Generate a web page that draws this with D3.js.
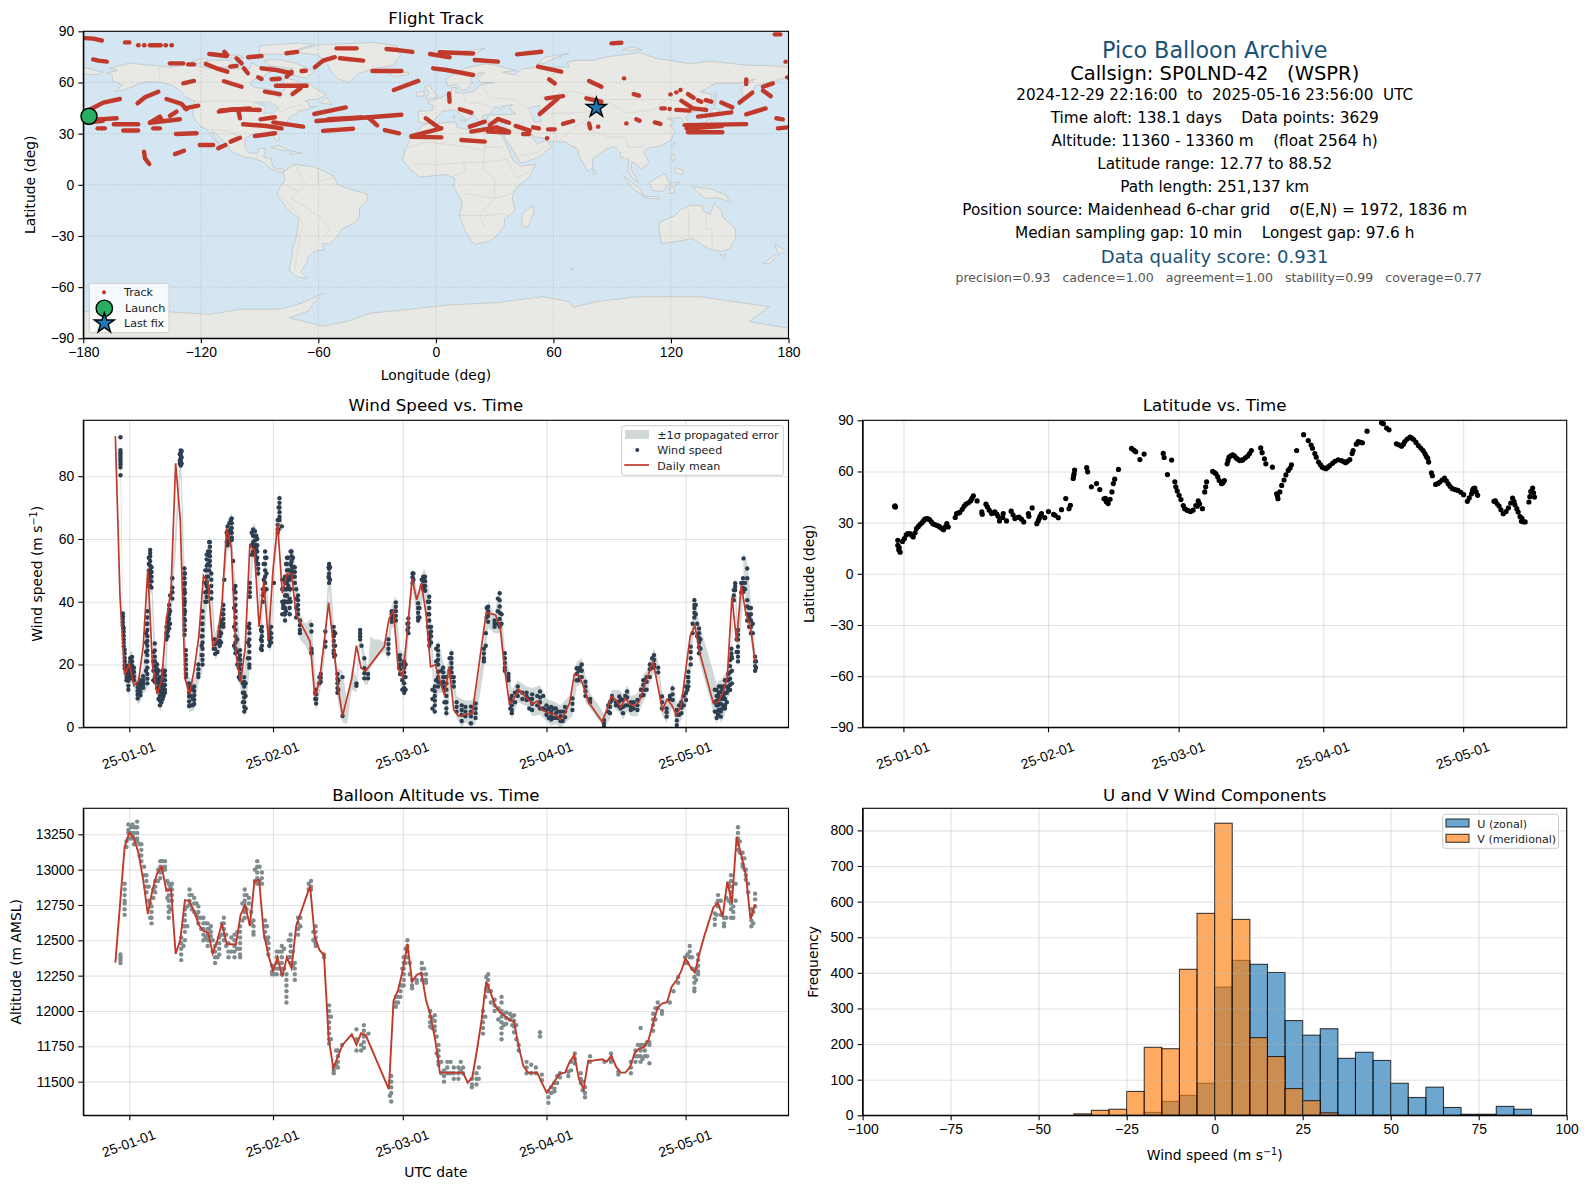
<!DOCTYPE html>
<html>
<head>
<meta charset="utf-8">
<script src="https://cdn.jsdelivr.net/npm/d3@7"></script>
<style>
  html, body { margin: 0; padding: 0; background: #fff; }
  svg { display: block; font-family: "DejaVu Sans", sans-serif; }
  .axis text { font-size: 13.9px; fill: #000; }
  .axis path, .axis line { stroke: #000; stroke-width: 1.1px; }
  .grid line { stroke: #b0b0b0; stroke-opacity: 0.35; stroke-width: 1.1px; }
  .grid path { display: none; }
</style>
</head>
<body>
<svg width="1590" height="1189"></svg>
<script>
const monthDays = [0, 31, 59, 90, 120];

const infoLines = [
    'Pico Balloon Archive',
    'Callsign: SP0LND-42   (WSPR)',
    '2024-12-29 22:16:00  to  2025-05-16 23:56:00  UTC',
    'Time aloft: 138.1 days    Data points: 3629',
    'Altitude: 11360 - 13360 m    (float 2564 h)',
    'Latitude range: 12.77 to 88.52',
    'Path length: 251,137 km',
    'Position source: Maidenhead 6-char grid    σ(E,N) = 1972, 1836 m',
    'Median sampling gap: 10 min    Longest gap: 97.6 h',
    'Data quality score: 0.931',
    'precision=0.93   cadence=1.00   agreement=1.00   stability=0.99   coverage=0.77'
];

// histogram, bins are 5 m/s wide
const histBinLeft = [-40, -35, -30, -25, -20, -15, -10, -5, 0, 5, 10, 15, 20, 25, 30, 35, 40, 45, 50, 55, 60, 65, 70, 75, 80, 85];
const histU = [0, 0, 0, 0, 8, 39, 56, 90, 360, 435, 424, 401, 266, 225, 243, 160, 177, 154, 90, 50, 79, 22, 3, 3, 25, 17];
const histV = [4, 14, 17, 67, 191, 187, 410, 567, 820, 550, 218, 165, 75, 41, 7, 0, 0, 0, 0, 0, 0, 0, 0, 0, 0, 0];

// daily means, days counted from 2025-01-01
const windMeanDays = [-3, -2, -1, 0, 1, 2, 3, 4, 5, 6, 7, 8, 9, 10, 11, 12, 13, 14, 15, 16, 17, 18, 19, 20, 21, 22, 23, 24, 25, 26, 27, 28, 29, 30, 31, 32, 33, 34, 35, 36, 37, 39, 40, 41, 42, 43, 44, 45, 46, 48, 49, 50, 51, 55, 56, 57, 58, 59, 60, 61, 62, 63, 64, 65, 66, 67, 68, 69, 70, 71, 74, 77, 79, 80, 81, 82, 83, 84, 87, 88, 89, 90, 91, 92, 93, 94, 95, 96, 97, 98, 99, 102, 103, 104, 105, 106, 107, 108, 109, 110, 111, 113, 115, 116, 117, 118, 119, 121, 122, 123, 126, 127, 128, 129, 130, 131, 132, 133, 134, 135];
const windMeanSpeeds = [92.8, 41.6, 16.6, 20.2, 13.3, 14.7, 25.7, 50.3, 19.9, 10.6, 15.1, 34.2, 43.7, 84.1, 66, 15.6, 10.5, 18.3, 28.9, 48.3, 46, 25.7, 28.3, 39.5, 63.4, 57.5, 23.6, 14.3, 25.2, 58, 56.5, 32, 46.4, 27.8, 50.1, 65, 42.7, 48.8, 49, 35.8, 33.2, 27.3, 9.8, 14.5, 26.8, 39.7, 26.8, 13, 3.6, 15.6, 26, 18.8, 18, 25.7, 34.4, 37.2, 18.8, 16, 31, 47.4, 40.6, 45.9, 36.3, 19.3, 19.9, 15, 10.3, 19.3, 5.5, 3.6, 4.5, 36.6, 35.8, 32, 18.3, 7.4, 9.2, 12.1, 7.4, 8.4, 5.5, 4.8, 4.4, 4, 2.5, 4.5, 7.9, 16.9, 16.5, 13, 8.2, 1.8, 5.5, 10, 8.7, 6.4, 9.2, 7.4, 6.9, 8.2, 13, 20.9, 5.5, 9, 7.1, 3.9, 6.6, 29.1, 32.4, 24.1, 7.6, 8.2, 10.8, 16.1, 41.6, 27.3, 45.3, 36.3, 32, 20.9];

// wind speed samples: [day, speeds...]
const windColumns = [
    [-1.9, [92.4, 88.3, 87.6, 86.9, 86.2, 85.4, 84.6, 83.8, 82.8, 80.3]],
    [-1.4, [36.3, 35.4, 34.6, 33.5, 32.4]], [-1.2, [31.6, 30.4, 29.2, 28, 26.9, 25.8]],
    [-1, [24.7, 23.5, 22.1, 21, 19.8, 18.7]], [-0.6, [19.6, 18.4, 17.2, 16, 15]],
    [-0.2, [19.1, 17.6, 16.1, 14.8, 13.2, 12]], [0.2, [22, 20.8, 19.5, 18.2, 17, 15.6]],
    [0.6, [22.4, 21, 19.6, 18.5, 17.2, 16.4]], [1, [19, 17.6, 16.2, 15]],
    [1.8, [14, 12.8, 11.6, 10.4, 9.2]], [2.4, [15, 13.8, 12.5, 11.3, 10.2]], [3, [16.3, 15, 13.8, 12.6]],
    [3.9, [37, 35, 33, 31, 29, 27.5, 26, 24.5, 23, 21, 19, 17, 15.5, 14]],
    [4.5, [56.5, 55.5, 54.5, 53, 51.5, 50, 49, 48, 46.5, 45]], [4.8, [51, 49.5, 48, 46.5, 44.5]],
    [5.5, [26.7, 24.5, 22.5, 21, 19.5, 18, 16, 14.5]], [6, [20, 18.5, 17, 15.5, 14, 12.5]],
    [6.6, [16, 14.5, 13, 11.5, 10, 8.5, 7]], [7.2, [18, 16.5, 15, 13.5, 12, 10.5, 9]],
    [7.7, [18, 16.5, 15, 13.5, 12, 11]], [8.3, [35, 33.5, 32, 30.5, 29]],
    [8.6, [39, 37.5, 36, 34.5, 33, 31.5]], [9.3, [47.5, 44.5, 43, 41]],
    [11.1, [88.2, 87.4, 86.6, 85.8, 85, 84.2, 83.4]],
    [11.9, [50.6, 49, 47.5, 45.5, 44, 42.5, 41, 39, 37.5, 36, 34.5, 32.5, 31, 29.5]],
    [12.2, [24.6, 23, 21.5, 20, 18.5, 17, 16]], [12.9, [14, 12.5, 11, 9.8, 8.2, 6.8]],
    [14, [13, 11.6, 10.2, 8.8, 7.4]], [14.9, [20, 18.5, 17, 16]],
    [15.8, [37, 35, 33, 31, 29, 27, 25, 23, 21.5, 20]],
    [16.7, [55, 53.5, 51.5, 50, 48, 46.5, 45, 43, 41.5, 40]], [17.4, [59, 57.5, 56, 54.5, 53, 51.5]],
    [17.7, [49, 47, 45, 43, 41]], [18.5, [28, 26.5, 25, 23.4]], [19.5, [32, 30.5, 29, 27.5, 26]],
    [20.3, [39, 37.5, 36, 34.5, 33, 32]], [20.5, [47]], [21.2, [64, 62.5, 61, 59.5, 58]],
    [22.1, [66.5, 65, 63.5, 62, 60.5, 59.7]], [22.4, [53]],
    [22.9, [45, 43, 41, 39, 37, 35, 33, 31, 29, 27, 25, 23.6]], [23.9, [24.6, 23, 21.5, 20, 18.5, 17, 15.2]],
    [24.8, [16, 14.5, 13, 11, 9.5, 8, 6.5, 5]], [25.9, [33, 31.5, 30, 28, 26, 24, 22, 20, 19]],
    [26, [46, 44.5, 43, 41.6]], [26.7, [63, 61, 59, 57.5, 56]], [27.1, [62.5, 61, 59.5, 58, 56.5, 55]],
    [27.6, [60, 58, 56, 54, 52]], [27.8, [52, 50.5, 49]], [28.6, [32, 30.5, 29, 27.5, 26, 24.6]],
    [28.8, [44, 42, 40]], [29.3, [56, 54, 52, 50, 48, 46, 44]], [30.2, [31, 29.5, 28, 26]],
    [30.6, [32, 30, 28.5, 27]], [31.2, [46]], [32, [66, 64.5, 63, 62]],
    [32.4, [73, 71.5, 70, 68.5, 67, 66]], [32.9, [64]], [33.2, [40, 39, 38]],
    [33.6, [48, 46, 44, 42, 40, 38, 36, 34]], [34, [54, 52, 50, 48, 46, 44, 42, 40]],
    [34.6, [50, 47, 44, 41, 38, 36]], [35, [56, 54.5, 53, 51.5, 50, 49]], [35.7, [51, 49.5, 48, 46]],
    [36.4, [42, 40.5, 39, 37.5, 36]], [36.8, [34, 32.5, 31, 30]], [39.3, [32.6, 30.5, 25, 24, 23.6]],
    [40.3, [12, 10.5, 9, 7.6]], [41.3, [17, 15.8, 14.5]], [42.3, [30.5, 27.3, 25.7]],
    [43.1, [52, 50.5, 49, 47.5, 46]], [44.1, [32, 30.5, 29, 27.5, 26, 24.5, 23.6]], [44.2, [22.5]],
    [44.9, [17, 15.5, 14, 12.5, 11]], [46, [16, 3.6]], [49, [14, 13.2]], [49.8, [31, 30, 29, 28]],
    [50.1, [26]], [50.7, [22, 18.8, 17.2, 15.6]], [51.5, [17, 15.6]], [55.9, [28, 26.5, 25, 23.5]],
    [56.6, [37, 36, 34.8, 33.6]], [57.5, [39.8, 38.4, 37, 35.5, 34]], [58.4, [23, 21.5, 20, 18.5, 17]],
    [59.3, [21, 19, 17.5, 16, 14, 12.5, 11]], [60.2, [34.7, 33.2, 31.8, 30]], [61.1, [49, 47.8, 46]],
    [62.3, [39.5, 38, 36.5, 35, 34]], [63.4, [48, 46.5, 45, 44]], [63.8, [48, 46.5, 45, 43.5]],
    [64.7, [41.6, 40, 38, 36, 34, 32, 30, 28, 26]], [65.1, [32, 30.5, 29, 27]], [65.9, [13, 11.5, 10, 8.5, 7, 5]],
    [66.6, [26, 24.5, 23, 21.5, 20, 17.7, 16, 14.5, 13]], [67.7, [19, 17.5, 16, 14.5, 13]],
    [68.4, [16, 14, 12, 10, 8, 6, 4.5]], [69.5, [23.6, 22, 20.5, 19, 17.5, 16]], [70, [16, 14.5, 13]],
    [70.6, [8, 6.5, 5]], [71.7, [7, 5.5, 4, 2]], [72.5, [6.5, 5, 3.5]], [73.7, [6.6, 5, 3.5, 1.3]],
    [74.7, [7.6, 6, 4.5, 3]], [76.5, [25, 23.5, 22, 21]], [77.4, [38.4, 37, 35.5, 33.6]], [78.8, [34, 33, 32]],
    [79.9, [42.7, 40.5, 38.5, 36.5, 34.5, 32]], [81, [23.6, 22, 20.5, 19, 18]], [81.8, [17, 16, 15]],
    [82.5, [10, 8.5, 7, 5.5, 4.5]], [83.8, [13, 11.5, 10]], [85.7, [11, 9.8, 8.7]], [86.9, [10.5, 9, 7.5, 5.5]],
    [88.6, [11.4, 9.5, 8, 6]], [90, [7, 5.5, 4]], [91, [6.5, 5, 3.5, 2.5]], [92, [6, 4.5, 3]], [93, [5, 3.5, 2]],
    [94, [6.5, 5, 3.2]], [95.6, [9.2, 7.5, 5.5]], [96.5, [18.8, 17, 15]], [97.6, [20, 18, 16]],
    [98.4, [14.5, 13, 11.5, 10]], [99.4, [9, 8]], [102.4, [2.3, 1.2, 0.2]], [103.7, [8, 6.5, 4.5]],
    [104.1, [10, 8.7]], [105.7, [9.8, 8.2, 6.6]], [106.5, [8.7, 6.5, 4.5]], [107.4, [11.4, 9.5, 7]],
    [108.2, [8, 6.5, 5.5]], [109.6, [8.7, 7, 5.5]], [110.9, [15, 13.5, 12, 10.3]], [111.6, [16, 14.5, 12]],
    [112.3, [20, 18.5, 16]], [113.2, [23, 21.5, 20, 19.3]], [114.1, [19, 17.5]], [114.9, [9.8, 8, 6]],
    [115.9, [6, 4.8, 3.4]], [117.2, [12.4, 10.5, 8.7]], [118.1, [5.5, 4, 2.2, 0.7]], [119.1, [8, 6.2, 4.5]],
    [120.1, [13, 11, 8.7]], [120.6, [17.7, 16, 14.5, 13]], [121.1, [25.7, 24, 22, 20]],
    [121.9, [40.5, 39, 38, 36.5, 35]], [122.9, [31.5, 30, 28.5, 27, 25.5, 23.6]],
    [126.7, [11.9, 10, 8.5, 7, 5, 3]], [127.2, [13, 11, 9, 7.5, 5.5]], [127.6, [13, 11.2, 9.5, 7.5, 5, 3.4]],
    [128.5, [15, 13, 11, 9, 7, 6]], [129.2, [17, 15, 13, 12]], [129.6, [21.4, 19.5, 17.5, 15.5, 13.5, 11.9]],
    [129.9, [25, 23.5, 22.5]], [130.4, [43.7, 42, 40.5]], [130.7, [45.9, 44.8, 43.7]],
    [131.3, [31, 29.5, 28, 25.7, 24, 22.5, 21]], [132.4, [47.5, 46, 44.5, 43]], [132.5, [53.8]],
    [133.3, [50.6, 47.5, 40.5, 38.5, 36, 34]], [134.1, [38, 36, 34, 32, 30]], [135, [22.5, 21, 19.5, 18]]
];

// samples between the main streaks, dots only
const windColumnsExtra = [
    [3.6, [33, 30, 27, 24, 21, 18]], [4.2, [54, 52, 50, 47, 45]], [5.2, [24, 21, 18, 15]], [6.3, [18, 15, 12, 9]], [6.9, [14, 11, 8]], [7.4, [17, 13, 10]],
    [8, [32, 30, 28]], [8.8, [42, 37, 33]], [10.9, [87, 85, 84]], [11.3, [88, 86, 84]], [12, [49, 46, 43, 40, 37, 34, 31]], [13.2, [13, 10, 7]], [13.7, [12, 9, 7]],
    [15.6, [33, 29, 26, 23]], [16.4, [50, 46, 43, 40]], [17, [56, 52, 48, 44]], [17.2, [59, 55, 50]], [18.2, [28, 25]], [19, [27, 24]], [19.8, [34, 30, 27]], [20, [36, 33]],
    [21, [62, 59]], [21.6, [65, 62, 59]], [21.9, [66, 63, 60]], [22.6, [44, 38, 32, 26]], [23.3, [28, 24, 20]], [23.6, [22, 19, 16]], [24.5, [14, 11, 8]], [25.1, [14, 10, 6]],
    [25.6, [32, 27, 22]], [26.4, [62, 58, 55]], [27.4, [61, 57, 53]], [28.4, [31, 28, 25]], [29, [52, 47, 43]], [29.6, [54, 49, 44]], [30.4, [30, 27]], [32.2, [70, 66, 63]],
    [33, [47, 44, 40, 36]], [33.4, [44, 40, 36]], [33.8, [52, 47, 42, 37]], [34.3, [54, 50, 45, 40]], [34.8, [56, 52, 48, 44, 40]], [35.3, [54, 51, 48]], [36, [44, 41, 38, 35]],
    [40.1, [11, 9]], [41, [16, 14]], [43, [51, 48]], [43.3, [51, 47]], [44.4, [30, 26, 23]], [45.1, [15, 12]], [58.2, [22, 19]], [58.9, [20, 15, 12]], [59.6, [20, 16, 12]],
    [60, [33, 31]], [61.3, [49, 47]], [62.6, [38, 35]], [63.1, [47, 45]], [63.6, [47, 44]], [64.4, [40, 36, 32]], [65.4, [12, 9, 6]], [66.2, [25, 21, 15]], [67.3, [18, 14]],
    [68, [16, 12, 8]], [69.1, [22, 18]], [76.9, [30, 26]], [77.1, [38, 35]], [79.5, [41, 37, 33]], [80.3, [36, 33]], [82.2, [9, 6]], [83.2, [11, 8]], [84.8, [11, 9]], [86.3, [9, 6]],
    [88, [10, 7]], [89.3, [10, 6]], [90.5, [6, 3]], [91.5, [6, 3]], [92.5, [5, 3]], [93.5, [5, 2]], [96.9, [18, 15]], [97.2, [19, 16]], [103.3, [7, 5]], [105, [8, 7]], [106, [9, 6]],
    [107, [10, 7]], [108.8, [8, 6]], [110.4, [12, 10]], [111.2, [15, 12]], [112.8, [22, 19]], [116.6, [10, 9]], [118.6, [7, 4]], [119.6, [10, 7]], [120.4, [16, 12]], [121.5, [33, 30]],
    [122.2, [39, 36]], [122.5, [33, 29]], [123.2, [28, 25]], [126.3, [12, 8, 5]], [127, [10, 7, 4]], [127.9, [12, 9, 6]], [128.2, [13, 10, 7]], [128.9, [15, 11, 8]], [130, [22, 18, 14]],
    [131, [28, 24]], [132, [46, 43]], [132.8, [46, 44]], [133.7, [38, 35, 32]], [134.5, [33, 30]], [135.2, [21, 19]]
];

// extra error band knots where the fit is poor between fixes: [day, low, high]
const windBandExtra = [[38, 26, 33], [47, 1, 8], [48, 12, 19], [52, 19, 29], [53, 21, 28], [54, 23, 28], [55, 24, 27]];
const windSigma = 2;

const latTrack = [
    [-1.9, 39.4], [-1.8, 39.9], [-1.7, 39.1], [-1.2, 19.6], [-1.2, 16.7], [-1, 14.1], [-0.9, 15.3], [-0.7, 12.7], [-0.2, 19], [0.2, 20.6], [0.6, 22.8], [0.9, 23.5], [1.4, 23.6], [1.8, 22.5], [2.1, 21.6],
    [2.5, 24], [2.8, 26.5], [3.2, 27.8], [3.6, 29], [4, 30], [4.3, 31], [4.6, 32], [5, 32.4], [5.3, 32.2], [5.6, 31.8], [6, 30.5], [6.3, 29.4], [6.7, 28.9], [7.1, 28.4], [7.5, 28], [7.8, 27.5], [8.2, 26.7], [8.6, 25.9], [9, 27.5], [9.3, 29.4], [9.6, 27.5],
    [11.1, 33], [11.4, 35.3], [11.8, 35.7], [12.1, 35.9], [12.6, 37.8], [13, 39.6], [13.4, 40.8], [13.9, 41.6], [14.4, 42.7], [14.7, 44.2], [15, 45.7], [15.8, 42.7], [16.8, 36.3], [16.9, 34.9], [17.7, 40.8], [18, 39.2], [18.4, 37.3], [18.9, 35.3], [19.2, 35.7], [19.6, 36.3], [20, 35], [20.3, 33.7], [20.6, 31],
    [21.4, 35.3], [21.3, 33], [22.1, 31], [23.1, 36.7], [23.5, 34.6], [23.9, 32.4], [24.4, 33], [24.8, 33.3], [25.3, 32], [25.8, 30.4], [26.8, 35.3], [26.9, 33.7], [27.6, 38.6], [28.6, 29.4], [28.9, 31], [29.1, 32.4], [29.3, 33.8], [29.6, 35.3], [30.3, 32.9], [31.1, 36.5], [32.2, 34.8], [32.5, 34.3], [33.2, 32.9], [33.9, 37.6], [34.8, 44.1], [35.5, 38.2], [35.8, 40.2],
    [36.4, 55.9], [36.5, 57.5], [36.6, 58.8], [36.7, 60.8], [39.3, 62.2], [39.5, 59.8], [40.3, 51], [41.4, 52.9], [42.1, 49.4], [43, 44], [43.3, 44.2], [43.5, 42.2], [43.9, 41.2], [44.3, 43.7], [44.7, 48], [45, 52.9], [45.3, 55.5], [46.1, 61.2],
    [48.9, 73.5], [49.4, 72.5], [49.8, 71.6], [50.7, 67], [51.6, 70.2], [55.7, 70.6], [55.9, 68.2], [57.5, 66.7], [56.6, 58.2], [58.2, 53.9], [58.4, 51], [58.7, 48.6], [59.1, 46], [59.5, 43.5], [60, 40], [60.3, 38.2], [60.8, 37.3], [61.2, 36.9], [61.6, 36.5], [62.1, 37.3], [62.7, 40], [63.2, 42.7], [63, 39.6], [63.5, 41], [64.1, 38.2], [64.6, 48], [64.8, 51], [65, 53.9],
    [66.3, 60], [66.7, 59.4], [67, 58.6], [67.4, 56.8], [67.7, 54.7], [68.2, 52.8], [68.5, 53.4], [68.8, 54.7], [69.4, 64.5], [69.6, 66.5], [69.8, 68.4], [70.2, 69.2], [70.6, 69.7], [71, 69], [71.4, 67.8], [71.8, 67], [72.1, 66.4], [72.5, 66.6], [72.8, 66.8], [73.3, 68], [73.8, 69], [74.2, 70.5], [74.6, 72.3], [76.6, 73.8], [76.9, 71], [77.4, 67.4], [77.7, 64.5], [79.1, 62.5],
    [80, 46.9], [80.2, 45.5], [80.3, 44], [80.7, 48], [81.1, 51.8], [81.6, 55], [82, 58], [82.5, 60.6], [82.9, 62], [83.2, 63.9], [84.3, 72.3], [85.8, 81.6], [86.8, 78.1], [87.4, 75.5], [87.7, 73.6], [88.2, 70.5], [88.5, 68.4], [89, 65.5], [89.4, 64], [89.8, 62.5], [90.2, 62], [90.6, 61.6], [91, 62.5], [91.4, 63.5], [92, 64.8], [92.5, 66], [93.2, 66.8], [93.9, 66.4], [94.4, 65.8], [94.8, 65.1], [95.2, 66], [95.7, 67], [96.2, 70.5], [96.4, 72.3], [97.1, 76], [97.5, 77.5], [98, 77], [98.4, 76.8], [99.4, 83.6], [102.5, 88.5], [102.9, 88], [103.6, 85.5], [104.1, 84.4],
    [105.7, 76.2], [106.2, 75.6], [106.8, 74.8], [107.2, 76], [107.5, 77.5], [108, 79], [108.6, 80.1], [109, 79.5], [109.4, 78.7], [109.9, 77], [110.4, 75.2], [110.9, 73.7], [111.4, 72.3], [111.8, 70.5], [112.1, 68.8], [112.4, 67.8], [112.6, 65.5], [113.2, 59.2], [113.4, 57.5], [114.1, 52.4], [114.6, 53], [115, 53.8], [115.5, 55], [116, 56.1], [116.4, 54.5], [116.8, 52.8], [117.2, 51.3], [117.7, 49.9], [118.3, 49.3], [118.9, 48.9], [119.5, 47.8], [120.1, 46.4], [120.9, 42.5], [121.3, 44.5], [121.8, 46.9], [122, 48.9], [122.2, 50], [122.5, 50.3], [122.8, 48], [123.1, 46],
    [126.6, 42.5], [126.9, 42.8], [127.3, 41], [127.7, 39.7], [128.1, 37.5], [128.6, 35.2], [129.2, 36.5], [129.7, 38.6], [130.2, 41.5], [130.6, 44.4], [130.9, 42.5], [131.1, 40.5], [131.5, 38.2], [131.8, 36.2], [132.2, 33.5], [132.5, 30.8], [132.6, 32.5], [132.9, 30.5], [133.3, 30.4], [134.1, 42.1], [134.3, 45.2], [134.5, 48.3], [134.9, 50.3], [135.1, 47.5], [135.3, 45]
];

const altMeanDays = [-3, -1, 0, 1, 2, 3, 4, 5, 6, 7, 8, 9, 10, 11, 12, 13, 14, 15, 16, 17, 18, 19, 20, 21, 23, 24, 25, 26, 27, 28, 29, 30, 31, 32, 33, 34, 35, 36, 39, 40, 41, 42, 43, 44, 45, 46, 48, 49, 50, 51, 56, 57, 58, 59, 60, 61, 62, 63, 64, 65, 66, 67, 72, 73, 74, 75, 76, 77, 78, 79, 80, 81, 82, 83, 84, 85, 86, 88, 89, 90, 91, 92, 93, 94, 95, 96, 97, 98, 99, 100, 102, 103, 104, 105, 106, 107, 108, 109, 110, 111, 112, 113, 114, 115, 116, 117, 118, 119, 120, 121, 122, 123, 124, 126, 127, 128, 129, 130, 131, 132, 133, 134, 135];
const altMeans = [12342, 13163, 13262, 13222, 13116, 12927, 12686, 12856, 12974, 13021, 12849, 12861, 12403, 12502, 12785, 12778, 12703, 12609, 12566, 12554, 12408, 12502, 12620, 12474, 12470, 12679, 12750, 12601, 12920, 12927, 12550, 12396, 12286, 12378, 12243, 12380, 12302, 12601, 12885, 12526, 12432, 12396, 11807, 11595, 11677, 11760, 11835, 11760, 11842, 11830, 11446, 12073, 12149, 12290, 12474, 12208, 12255, 12271, 12078, 11965, 11795, 11564, 11564, 11493, 11531, 11724, 11937, 12208, 12125, 12031, 11988, 11965, 11937, 11925, 11748, 11611, 11564, 11564, 11493, 11423, 11465, 11517, 11559, 11564, 11642, 11689, 11517, 11446, 11649, 11649, 11658, 11642, 11684, 11606, 11564, 11564, 11602, 11701, 11736, 11743, 11795, 11913, 12026, 12054, 12062, 12172, 12215, 12278, 12373, 12314, 12271, 12408, 12526, 12734, 12762, 12668, 12915, 12762, 13233, 13104, 12962, 12649, 12755];

// altitude samples: [day, metres...]
const altColumns = [
    [-1.9, [12400, 12380, 12360, 12340]], [-1, [12900, 12860, 12820, 12780, 12760, 12720, 12680]],
    [-0.2, [13320, 13280, 13260, 13220]], [0.4, [13300, 13260, 13220]], [1, [13300, 13260, 13220, 13180]], [1.7, [13340, 13300, 13260, 13220, 13200]],
    [2.6, [13180, 13140, 13100, 13060]], [3.7, [12960, 12920, 12880, 12840]], [4.8, [12740, 12700, 12660, 12620]],
    [5.6, [12920, 12880, 12840]], [6.7, [13060, 13020, 12980, 12940]], [7.7, [13060, 13020, 13000]],
    [8.5, [12900, 12860, 12820, 12780, 12740, 12700, 12660]], [9.2, [12900, 12860, 12820, 12780]],
    [11.2, [12520, 12480, 12440, 12400, 12360]], [12, [12720, 12680, 12640, 12600, 12560, 12500]],
    [13, [12860, 12820, 12780, 12750]], [14, [12800, 12760, 12700]], [14.9, [12740, 12700, 12660, 12620]],
    [16, [12660, 12620, 12580, 12540, 12500]], [16.9, [12620, 12580, 12540, 12500, 12460]], [17.6, [12600, 12560, 12530]],
    [18.5, [12460, 12420, 12380, 12340]], [19.4, [12520, 12480, 12440, 12400]], [20.4, [12660, 12620, 12580, 12540, 12500]],
    [21.4, [12480, 12420, 12380]], [22.7, [12540, 12500, 12460, 12420, 12380]], [23.9, [12600, 12560, 12520, 12480, 12440, 12400, 12380]],
    [24.9, [12860, 12820, 12780, 12740, 12700, 12660]], [25.8, [12800, 12760]], [26.8, [12640, 12600, 12560, 12540]],
    [27.6, [13060, 13020, 12980, 12940, 12900]], [28.6, [12980, 12940, 12900]], [29.3, [12640, 12600, 12560, 12520]],
    [30, [12520, 12480, 12440, 12400]], [30.8, [12320, 12280, 12260]], [31.8, [12420, 12380, 12340, 12300, 12260]],
    [32.9, [12460, 12420, 12380, 12340, 12300, 12260]], [33.9, [12260, 12220, 12180, 12140, 12100, 12060]],
    [34.8, [12540, 12500, 12460, 12420, 12380, 12340]], [35.7, [12340, 12300, 12260, 12220]], [36.4, [12660, 12620, 12580, 12540]],
    [39.2, [12920, 12880, 12860]], [40.2, [12600, 12560, 12520, 12480, 12460]], [42, [12400, 12380]],
    [43.1, [12040, 12000, 11960, 11920, 11880, 11840, 11800, 11770]], [44.1, [11600, 11580, 11560]],
    [45, [11720, 11680, 11640, 11600]], [45.9, [11760]], [49, [11870, 11800, 11720]], [50, [11760, 11720]],
    [50.6, [11900, 11860, 11820, 11780, 11740]], [51.6, [11840]], [56.5, [11540, 11500, 11460, 11420, 11360]],
    [57.5, [12100, 12060, 12030]], [58.5, [12180, 12140, 12100]], [59.2, [12380, 12340, 12300, 12260, 12220, 12180]],
    [60, [12500, 12460, 12420, 12380]], [61, [12220, 12180, 12160]], [62, [12220, 12200]], [63.1, [12340, 12300, 12260, 12220]],
    [64, [12260, 12220, 12200]], [64.9, [12000, 11960, 11920, 11890]], [65.9, [11970, 11930, 11890, 11860]],
    [66.7, [11760, 11720, 11680, 11640, 11620]], [67.9, [11580, 11540, 11500]], [68.6, [11640, 11600, 11560]],
    [70, [11600, 11560, 11520]], [71, [11600, 11560, 11520]], [72, [11600, 11560]], [73.9, [11520, 11480, 11460]],
    [74.9, [11560, 11520, 11480]], [76.3, [12000, 11960, 11920, 11880, 11840]], [77.4, [12260, 12220, 12180, 12140]],
    [78.8, [12080, 12040, 12000]], [80.3, [12100, 12060, 12000, 11960, 11920, 11880, 11840, 11800]],
    [81.3, [11990, 11950, 11910]], [82.1, [11980, 11940]], [83, [11970, 11930, 11890, 11850]], [84, [11760, 11720]],
    [85.7, [11640, 11600, 11560]], [87.7, [11600, 11560]], [88.6, [11850, 11820]], [89, [11550, 11510]],
    [90.4, [11430, 11390, 11350]], [91.7, [11490, 11450, 11430]], [92.9, [11560, 11530]], [94.7, [11570, 11540]],
    [96.1, [11700, 11660, 11630]], [97.4, [11560, 11520, 11490]], [98.3, [11460, 11420, 11390]], [99.4, [11680, 11640]],
    [102.5, [11640]], [103.9, [11700, 11660, 11640]], [105.5, [11570, 11550]], [108.2, [11640, 11600, 11560]],
    [109.2, [11720, 11680, 11640]], [110.3, [11880, 11760, 11720, 11680, 11640]], [111.2, [11760, 11720, 11680]],
    [112.2, [11780, 11760, 11630]], [113, [11980, 11940, 11900, 11860]], [114, [12060, 12020]], [114.9, [12000, 11980]],
    [116.6, [12060]], [117.4, [12140]], [118.4, [12240, 12200]], [119.9, [12380, 12340]], [120.9, [12460, 12420, 12380]],
    [121.9, [12240, 12200, 12160, 12140]], [122.7, [12400, 12360, 12320, 12280, 12260]], [126.3, [12690, 12650, 12610]],
    [127, [12820, 12780, 12740]], [128.3, [12660, 12620, 12600]], [129.8, [12960, 12920, 12880, 12840, 12800, 12760, 12720, 12660]],
    [130.3, [12740, 12700, 12660]], [131.3, [13300, 13260, 13220, 13180, 13140]], [132.3, [13120, 13080, 13040, 13020]],
    [133, [13000, 12960, 12930]], [134.2, [12720, 12680, 12640, 12600]], [135, [12830, 12790, 12740]],
    [-0.6, [13200, 13160]], [0.7, [13320, 13240]], [1.4, [13300, 13200]], [2.2, [13180, 13100]], [3.2, [13020, 12960]], [4.2, [12880, 12780]], [4.5, [12760, 12660]], [5.2, [12860, 12800]],
    [6.2, [13000, 12920]], [7.2, [13060, 13000]], [8.2, [12920, 12800]], [8.9, [12880, 12720]], [11.7, [12600, 12460]], [12.5, [12740, 12600]], [13.5, [12820, 12720]], [14.5, [12760, 12680]],
    [15.5, [12660, 12580]], [16.5, [12620, 12520]], [17.2, [12580, 12500]], [18, [12500, 12420]], [19, [12480, 12380]], [20, [12620, 12540]], [20.9, [12540, 12460]], [22, [12520, 12420]],
    [23.3, [12560, 12440]], [24.4, [12760, 12640]], [25.3, [12820, 12720]], [26.3, [12700, 12620]], [27.1, [13000, 12920]], [28.1, [13020, 12920]], [29.7, [12600, 12500]], [31.2, [12300, 12260]],
    [32.3, [12420, 12300]], [33.4, [12440, 12300]], [34.4, [12500, 12380]], [35.3, [12420, 12320]], [36.9, [12660, 12600]], [38.7, [12900, 12860]], [39.7, [12560, 12500]], [43.5, [11960, 11800]],
    [44.6, [11720, 11620]], [56.2, [11500, 11400]], [58, [12100, 12060]], [58.9, [12300, 12180]], [59.6, [12440, 12340]], [60.5, [12340, 12260]], [63.6, [12300, 12220]], [65.3, [11950, 11880]],
    [66.3, [11820, 11700]], [67.3, [11640, 11560]], [69.3, [11640, 11560]], [71.5, [11640, 11580]], [75.4, [11600, 11520]], [76.8, [12100, 11960]], [77, [12240, 12160]], [78, [12140, 12060]],
    [79.6, [12020, 11940]], [80.8, [11980, 11900]], [82.6, [11960, 11900]], [83.5, [11900, 11800]], [86.7, [11620, 11560]], [91, [11460, 11420]], [92.3, [11540, 11490]], [95.3, [11640, 11580]],
    [97.8, [11500, 11440]], [109.7, [11760, 11680]], [110.7, [11760, 11660]], [111.7, [11780, 11680]], [113.5, [12020, 11940]], [120.4, [12400, 12340]], [121.4, [12380, 12300]], [122.3, [12300, 12220]],
    [126.7, [12760, 12680]], [127.6, [12780, 12680]], [128.8, [12800, 12660]], [129.3, [12900, 12780]], [130.8, [12900, 12780]], [131.7, [13200, 13120]], [132.7, [13080, 13000]], [133.5, [12900, 12840]], [134.6, [12700, 12620]]
];

// flight track runs as [lon, lat] polylines
const trackRuns = [
    [[-179, 86], [-175, 85.7], [-170.5, 84.6]], [[-158.7, 83.5], [-156.5, 83.5]], [[-152, 81.8], [-151.8, 81.8]], [[-149, 81.8], [-148.8, 81.8]],
    [[-146, 81.8], [-140.5, 81.8]], [[-138, 81.8], [-137.8, 81.8]], [[-135, 81.8], [-134.8, 81.8]], [[-175, 73.5], [-172.3, 72.8], [-168, 72.2]],
    [[-135.8, 71.2], [-129, 71.2]], [[-126.4, 70.6], [-123.5, 70.6]], [[-115.7, 76.7], [-111, 76.1], [-106.9, 75.5]], [[-108, 78], [-106.5, 76]],
    [[-117.4, 70.8], [-112, 68.3], [-106.5, 66.3]], [[-105, 69.3], [-101.8, 69.7]], [[-101.8, 74.2], [-99.2, 71.2]], [[-98, 68.3], [-96, 65.4]],
    [[-95.8, 74.8], [-89, 75.5]], [[-76.3, 77.1], [-70.8, 77.9]], [[-50.7, 80], [-40.5, 80]], [[-25.2, 79.6], [-19.3, 79], [-12, 77.9]],
    [[-3, 76.7], [7, 74.8]], [[2, 77.7], [19, 77]], [[-61.8, 68.9], [-57.6, 72.8], [-51.6, 74.8]], [[-49, 74.2], [-37.1, 72.8]], [[-32.4, 66.7], [-17.6, 66.7]],
    [[-1.4, 68.3], [5.4, 67.3], [19, 64.4]], [[-89, 68.3], [-81.4, 67.3], [-73.7, 65.4]], [[-76.2, 63.4], [-73.7, 66.3]], [[-68.6, 66.7], [-66.4, 66.9]],
    [[-90.7, 63], [-89, 62]], [[-83.9, 61.9], [-79.7, 62.2]], [[-129, 59.5], [-123.5, 60.9]], [[-108.2, 60.7], [-99.2, 57.5]], [[-81.7, 58.1], [-66, 58.1]],
    [[-87.3, 54.6], [-79.7, 53.2]], [[-73.2, 53.2], [-69.1, 56.6]], [[-21.5, 55.6], [-9, 60.9]], [[-176.3, 44.3], [-169.8, 48.2], [-161.3, 50.3]],
    [[-152.3, 47.8], [-148.5, 51.3], [-141.7, 54.6]], [[-137.5, 50.3], [-129.8, 47.4], [-127.3, 44.3]], [[-128.1, 44.8], [-121.3, 46.4]],
    [[-110.8, 42.9], [-103.5, 44.3], [-89.9, 43.9]], [[-110, 43.6], [-95, 44.8]], [[-100.9, 43.9], [-100, 39]], [[-135.8, 40.4], [-132.4, 42.9]], [[-146, 36.4], [-140.9, 40], [-140, 38]],
    [[-146, 36.4], [-130.7, 38.4]], [[-178, 38], [-170, 38.5], [-163, 39]], [[-178, 36.5], [-170, 37.5]], [[-164.4, 35.5], [-152, 35.5]], [[-159.6, 31.8], [-152, 31.8]], [[-172.7, 33.1], [-169, 33.1]],
    [[-144.3, 33.1], [-140.9, 33.1]], [[-132.7, 29.8], [-122.2, 30.2]], [[-149, 19.4], [-148.5, 15.5], [-146.3, 12.2]], [[-133.2, 18], [-128.6, 20]],
    [[-120.5, 23.3], [-113.7, 23.3]], [[-111.1, 21.4], [-107.4, 23.3]], [[-104.8, 25.3], [-100, 27.6]], [[-92.4, 28.6], [-82.2, 30.2]],
    [[-98.4, 35.5], [-86.5, 34.5], [-78.8, 33.1]], [[-89.5, 38.4], [-82.2, 39.6]], [[-83, 36.6], [-67.8, 34.1]], [[-62.1, 41.5], [-46, 45.4]],
    [[-61, 37.4], [-33.8, 39.6], [-17.6, 41.1]], [[-55, 38.5], [-38, 39.5]], [[-34.6, 39.6], [-30, 34.9]], [[-57.6, 31.6], [-42.3, 32.9]], [[-26.1, 32.1], [-18.8, 30.2]],
    [[-5.2, 39], [2, 33.1]], [[-12.5, 28.6], [2.8, 33.1]], [[-12.5, 28.2], [2.8, 27.8]], [[6.7, 53.6], [7, 48.7]], [[19.8, 73.2], [31.7, 72.2]],
    [[41.4, 76.5], [53.8, 78]], [[52.1, 69.3], [64, 66.3]], [[57.8, 61.8], [60.7, 59.5]], [[89.6, 82.9], [94.7, 83.3]], [[173, 88.2], [175.8, 88.2]],
    [[78.2, 60.9], [84.5, 57.5]], [[96, 62.4], [96.1, 62.4]], [[101, 53.2], [103.7, 52.3]], [[56.4, 50.7], [64.9, 52]], [[53, 41.5], [62.3, 50.7]],
    [[12.2, 44.3], [18.1, 42.3]], [[17.3, 34.1], [25, 37]], [[18.1, 31.2], [30.9, 33.7], [37.3, 31.2]], [[31.7, 38.6], [37.3, 36.4]], [[31.7, 38.6], [27.5, 35]],
    [[26.6, 31.2], [37.3, 30.6]], [[13, 26.3], [25, 25.3]], [[40.7, 34.5], [47.9, 31.8]], [[44.5, 29.8], [47.5, 29.8]], [[49.6, 33.7], [52.6, 33.1]],
    [[57.3, 32.5], [60.6, 32.5]], [[56.7, 27.3], [56.8, 27.3]], [[64.9, 35.7], [70, 37.4]], [[78.2, 36], [78.8, 33.1]], [[82.8, 34.1], [82.9, 34.1]],
    [[76.8, 50.7], [84.5, 48.7]], [[97.2, 36], [97.3, 36]], [[102.3, 38.4], [104, 37.6]], [[111.7, 36.6], [114.6, 35.7]], [[115.1, 44.8], [116.8, 44.8]],
    [[119.3, 44.4], [119.4, 44.4]], [[122.7, 43.9], [129.5, 43.5]], [[119.7, 53], [119.8, 53]], [[122.7, 54.2], [122.8, 54.2]], [[124.8, 55.6], [124.9, 55.6]],
    [[128.7, 53.2], [131.6, 51]], [[133.8, 49.6], [135.5, 48.7]], [[137.7, 49.6], [140.6, 48.7]], [[125.3, 49.3], [131.2, 44.8], [138, 43.9]],
    [[145.7, 48.2], [151.3, 45.4]], [[133.8, 40], [150.8, 42.5]], [[155, 48.2], [161.5, 54]], [[158.4, 61.8], [158.4, 59.1]], [[167, 57.5], [172, 59.5]],
    [[167, 55.2], [170.9, 52]], [[158.4, 41.3], [168.3, 44.8]], [[127, 35], [158.4, 35.6]], [[128, 33], [146, 34.4]], [[128.7, 30.8], [146.2, 30.8]],
    [[173.8, 39], [177.1, 38.4]], [[174.6, 33.1], [179.7, 33.7]], [[178.5, 72.2], [178.6, 72.2]], [[179.3, 63], [179.4, 63]]
];

const launchPoint = [-177.1, 40.2];
const lastFix = [81.9, 45.2];

// rough coastlines, [lon, lat]
const landPolygons = [
    [[-168, 65.6], [-162.5, 67], [-166.8, 68.3], [-156.5, 71.3], [-148, 70.4], [-135, 69], [-128, 70], [-120, 69.5], [-115, 68], [-108, 68], [-100, 68], [-95, 68], [-94, 71.5], [-90, 69], [-85, 69.5], [-81.5, 68.5], [-82, 67], [-87, 65], [-87, 64], [-93, 61.8], [-94.8, 59], [-92.5, 57], [-88, 56.5], [-82.5, 55], [-82, 52.5], [-79.5, 51.3], [-79, 54], [-77, 56], [-78, 59], [-77.5, 62.5], [-72, 61.5], [-69.5, 59], [-65, 60], [-62, 57], [-56, 53], [-60, 50], [-65, 50], [-67, 49], [-65, 48.5], [-65, 46], [-61, 46], [-66, 44], [-70, 43.5], [-71, 41.5], [-74, 40.5], [-76, 37], [-76, 35], [-81, 31.5], [-80, 26], [-81, 25], [-82.7, 28], [-84, 30], [-89, 30], [-94, 29.5], [-97.5, 27], [-97.5, 22], [-95, 18.5], [-91, 18.7], [-90.5, 21], [-87, 21.5], [-88, 16], [-84, 15.5], [-83.5, 11], [-81, 9], [-78, 9.5], [-77.5, 7.5], [-80, 7.3], [-85, 10], [-87.5, 13], [-94, 16], [-97, 15.7], [-105, 20], [-106, 23], [-110, 27], [-113, 31], [-114.7, 31], [-112, 26], [-110, 23], [-112, 25], [-115, 29], [-117, 32.5], [-120.5, 34.5], [-124, 40], [-124, 46], [-123, 49], [-127.5, 51], [-130, 54.5], [-134, 58], [-140, 60], [-148, 60.5], [-152, 59], [-158, 56], [-164, 54.5], [-160, 58.5], [-165, 61], [-165, 64]],
    [[-73, 78], [-60, 82], [-32, 83.5], [-20, 81.5], [-18, 76], [-22, 70], [-32, 68], [-40, 65], [-44, 60], [-50, 62], [-54, 67], [-55, 70], [-60, 76]],
    [[-80, 73.5], [-72, 71.5], [-62, 66.5], [-66, 62.5], [-72, 64], [-78, 65], [-73, 68], [-85, 70], [-88, 73]],
    [[-90, 76.5], [-78, 76.5], [-62, 82.5], [-72, 83], [-90, 81.5]],
    [[-117, 73], [-105, 73], [-102, 69], [-115, 69]],
    [[-125, 72], [-118, 74.5], [-116, 73], [-122, 71]],
    [[-110, 76], [-100, 76], [-98, 74.5], [-108, 74.5]],
    [[-59, 48], [-53, 47], [-56, 51.5]],
    [[-84.5, 22], [-80, 23], [-74.5, 20], [-78, 20]],
    [[-74, 20], [-68.5, 18.5], [-74, 18]],
    [[-77.5, 8], [-72, 12], [-62, 10.5], [-52, 5], [-50, 0], [-44, -2.5], [-35, -5.5], [-35, -9], [-39, -14], [-39, -18], [-41, -22], [-48, -26], [-50, -30], [-54, -34.5], [-58, -34.5], [-57, -38], [-62, -39], [-65, -42], [-66, -46], [-69, -51], [-65.5, -55], [-71, -54], [-75, -50], [-73.5, -42], [-73, -36], [-71, -30], [-70, -20], [-76, -14], [-81, -6], [-80, -2], [-77, 3], [-78, 7]],
    [[-6, 35.5], [0, 36], [10, 37], [11, 33.5], [20, 32], [25, 31.5], [32, 31], [34, 28], [37, 21], [39, 15], [43, 11], [51, 12], [48, 5], [40, -3], [39, -8], [40.5, -15], [35, -20], [35, -24], [32.5, -28], [28, -33], [20, -34.8], [18, -33], [15, -27], [12, -18], [13.5, -10], [9, -1], [9.5, 4], [5, 6], [-4, 5], [-8, 4.5], [-13, 9], [-17, 14.5], [-16, 20], [-13, 27], [-10, 31]],
    [[-9, 37], [-9, 43], [-2, 43.5], [-1, 46], [-4.5, 48.5], [2, 51], [8, 54], [8, 57], [10.5, 57], [10, 54], [14, 54], [19, 54.5], [21, 57], [24, 59], [30, 60], [23, 60], [21, 63], [25, 65.5], [22, 65.8], [17.5, 62], [18.5, 60], [16, 56], [13, 55.5], [11, 59], [6, 58], [5, 62], [14, 68], [25, 71], [31, 70], [41, 67], [34, 66], [40, 64.5], [44, 68], [54, 69], [60, 69], [68, 69], [67, 72], [72, 73], [80, 73], [87, 75], [104, 77.5], [113, 74], [130, 71], [140, 72.5], [160, 70], [170, 70], [180, 69], [180, 65], [178, 62.5], [170, 60], [163, 58], [162, 55], [156.7, 51], [156, 57], [163, 62], [155, 59.5], [143, 59.5], [135, 54.5], [141, 53], [140, 48], [135, 43.5], [130, 42.5], [127.5, 39.5], [129, 36], [126.5, 34.5], [126, 37.5], [125, 39.5], [121.5, 39], [118, 39], [122, 37], [119.5, 35], [122, 31], [120, 26], [114, 22.5], [108, 21.5], [106, 19], [109, 13], [105, 9], [102, 12.5], [100, 13.5], [99.5, 9], [103.5, 1.5], [101, 3], [98, 8], [98.5, 15], [94.5, 16], [94, 19], [91, 22.5], [87, 21], [80, 15], [80, 10], [77.5, 8], [73, 17], [72.5, 21], [68, 23.5], [66.5, 25], [57, 25.5], [56.5, 27], [51, 28], [48, 30], [51, 25], [52, 24], [56, 26], [59.5, 22.5], [52, 16], [45, 13], [43, 13], [39, 21], [35, 28], [34.5, 31.5], [36, 36.5], [30, 36], [26.5, 38], [26, 40], [29, 41], [41, 41.5], [37.5, 44.5], [39, 47], [33.5, 46], [33, 44.5], [30, 46], [28, 42], [24, 40.5], [23, 36.5], [20, 40], [18.5, 42], [13, 45.5], [18, 40], [16, 38], [12, 42], [9, 44], [3, 43], [0, 39], [-2, 37], [-5, 36]],
    [[-180, 69], [-175, 67.5], [-170, 66], [-173, 64.5], [-180, 65]],
    [[114, -22], [122, -18], [125, -14.5], [130, -12], [136, -12], [136, -15], [140, -17.5], [142, -11], [145.5, -15], [146.5, -19], [153, -26], [153, -31], [150, -37.5], [146, -39], [140, -38], [135, -34.5], [131, -31.5], [124, -33], [115, -34.5], [114, -27]],
    [[145, -41], [148, -41], [147, -43.5]], [[173, -35], [178, -38], [175, -41.5]], [[173, -41], [167, -46], [170, -46.5], [174, -42]],
    [[131, -1], [141, -2.5], [148, -6], [150.5, -10.5], [144, -7.5], [138, -8], [133, -4]], [[109, 1.5], [117, 7], [119, 1], [116, -4], [110, -3]],
    [[95.5, 5.5], [104, -2], [106, -6], [101, -3]], [[105.5, -6.5], [114, -7], [114, -8.5], [106, -7.5]], [[120, 1], [125, 1.5], [121, -1], [122, -5], [119, -5]],
    [[120.5, 18], [122, 18], [122, 14], [120.5, 14]], [[122, 10], [126, 9], [126, 6], [122, 7]],
    [[130.5, 33], [135, 34], [140, 35], [141.5, 39], [141, 41], [139.5, 38], [136, 36], [131, 34]], [[140, 42], [143, 42], [145, 44], [141.5, 45]],
    [[142, 46], [143, 50], [143, 54], [142, 52]], [[120, 23], [122, 25], [121, 22]], [[80, 9.5], [82, 7], [80.5, 6]],
    [[49.5, -12], [50, -16], [47, -25], [44, -24], [44, -17]], [[-24, 65.5], [-14, 66], [-14, 64.5], [-22, 63.5]],
    [[-5, 50], [1, 51.5], [-2, 56], [-3, 58.5], [-6, 57], [-3, 54], [-5, 52]], [[-10, 52], [-6, 52], [-6, 55], [-10, 54]],
    [[12, 78], [25, 80], [20, 77]], [[52, 71], [56, 75], [68, 77], [60, 74], [55, 71]], [[95, 79], [105, 79], [100, 81]],
    [[8.5, 39], [9.5, 41], [9.7, 39]], [[12.5, 38], [15.5, 38], [15, 36.8]], [[69, -49], [70.5, -49.5], [69.5, -49.8]],
    [[-180, -90], [-180, -74.4], [-135.8, -74.5], [-115.4, -76], [-100, -73], [-81.4, -73], [-76, -72], [-67.8, -69], [-57.5, -63.6], [-63, -70], [-65, -74], [-75, -78], [-57.6, -82.8], [-45, -80], [-33.7, -75.3], [-16.7, -73.4], [7, -70.4], [31, -69.1], [54.7, -65.6], [68.3, -68.5], [70, -71.8], [82, -68.5], [103, -65.6], [134.6, -65.6], [170.3, -71.5], [160, -80.2], [180, -84.1], [180, -90]]
];

// inland water cut back out of the land
const waterPolygons = [
    [[47, 45], [53, 46.5], [53, 40], [54, 37], [50, 37], [49, 41]],
    [[-93, 48.5], [-85, 48.5], [-80, 45], [-83, 42], [-88, 42], [-87, 46]]
];

const borderLines = [
    [[-141, 69.6], [-141, 60.3]], [[-123, 49], [-95, 49], [-89, 48], [-83, 45.5], [-79, 43], [-75, 45], [-69, 47], [-67, 45]],
    [[-117, 32.5], [-106, 31.7], [-97.5, 26]], [[-92, 14.5], [-91, 18]], [[-72, 12], [-67, 1], [-70, -4], [-74, -8], [-69, -11], [-58, -20], [-54, -26], [-57, -31]],
    [[-78, 1], [-75, -1], [-70, -4]], [[-81, -4], [-70, -18]], [[-70, -18], [-68, -23], [-71, -40], [-72, -50]], [[-60, 8], [-60, 2], [-52, 4]],
    [[-13, 27], [-2, 32]], [[-17, 21], [-5, 25], [12, 23], [25, 20]], [[25, 31.5], [25, 20], [24, 9], [30, 4], [30, -8], [22, -18], [25, -25]],
    [[-12, 12], [3, 12], [14, 13], [24, 13], [36, 15]], [[9, 5], [15, 8], [14, 13]], [[14, -5], [30, -8], [39, -5]], [[12, -18], [25, -18], [35, -17]], [[34, 22], [25, 22]], [[36, 15], [41, 4], [48, 8]], [[2, 51], [7, 48], [7, 44]], [[14, 54], [15, 48], [22, 48], [28, 46]],
    [[24, 57], [28, 51], [40, 50], [47, 45]], [[53, 51], [70, 55], [85, 50], [98, 50], [118, 50], [130, 48], [135, 48]], [[53, 42], [68, 42], [80, 43], [85, 50]], [[87, 49], [98, 42], [111, 44], [118, 50]],
    [[80, 43], [75, 37], [78, 32], [88, 28], [97, 28], [98, 22], [106, 22]], [[61, 36], [61, 30], [62, 25]], [[75, 37], [71, 34], [66, 29], [62, 25]], [[44, 37], [46, 30], [48, 30]], [[35, 30], [39, 32], [46, 30], [52, 24]], [[43, 17], [52, 19], [55, 22]],
    [[129, -15], [129, -31]], [[138, -16], [138, -26], [141, -26], [141, -38]]
];

const svg = d3.select('svg');

const windBox = {left: 83.3, right: 788.5, top: 420.3, bottom: 727.3};
const mapBox = {left: 83.3, right: 788.5, top: 31.3, bottom: 338.3};
const latBox = {left: 862.6, right: 1566.7, top: 420.3, bottom: 727.3};
const altBox = {left: 83.3, right: 788.5, top: 808.3, bottom: 1115.3};
const histBox = {left: 862.6, right: 1566.7, top: 808.3, bottom: 1115.3};

const toDate = d => new Date(Date.UTC(2025, 0, 1) + d * 864e5);
const monthTicks = monthDays.map(toDate);

const xWind = d3.scaleUtc().domain([toDate(-9.92), toDate(142.2)]).range([windBox.left, windBox.right]);
const xLat = d3.scaleUtc().domain([toDate(-8.75), toDate(142.2)]).range([latBox.left, latBox.right]);
const yWind = d3.scaleLinear().domain([0, 97.8]).range([windBox.bottom, windBox.top]);
const yLat = d3.scaleLinear().domain([-90, 90]).range([latBox.bottom, latBox.top]);
const yAlt = d3.scaleLinear().domain([11262, 13434]).range([altBox.bottom, altBox.top]);
const xLon = d3.scaleLinear().domain([-180, 180]).range([mapBox.left, mapBox.right]);
const yMapLat = d3.scaleLinear().domain([-90, 90]).range([mapBox.bottom, mapBox.top]);
const xHist = d3.scaleLinear().domain([-100, 100]).range([histBox.left, histBox.right]);
const yHist = d3.scaleLinear().domain([0, 862]).range([histBox.bottom, histBox.top]);

const dateFormat = d3.utcFormat('%y-%m-%d');
const plainFormat = d3.format('d');
const clipId = name => `clip-${name}`;

function addClip(name, box) {
    svg.append('clipPath').attr('id', clipId(name))
        .append('rect')
        .attr('x', box.left).attr('y', box.top)
        .attr('width', box.right - box.left).attr('height', box.bottom - box.top);
}

function addGrid(box, x, y, xTicks, yTicks) {
    svg.append('g').classed('grid', true)
        .attr('transform', `translate(0, ${box.bottom})`)
        .call(d3.axisBottom(x).tickValues(xTicks).tickSize(box.top - box.bottom).tickFormat(''));
    svg.append('g').classed('grid', true)
        .attr('transform', `translate(${box.left}, 0)`)
        .call(d3.axisLeft(y).tickValues(yTicks).tickSize(box.left - box.right).tickFormat(''));
}

function addFrame(box, x, y, xTicks, yTicks, xFormat, rotateDates) {
    const bottom = svg.append('g').classed('axis', true)
        .attr('transform', `translate(0, ${box.bottom})`)
        .call(d3.axisBottom(x).tickValues(xTicks).tickSizeInner(5).tickSizeOuter(0).tickPadding(4).tickFormat(xFormat));
    if (rotateDates) {
        bottom.selectAll('text')
            .attr('text-anchor', 'middle')
            .attr('dy', '0.35em')
            .attr('y', 0)
            .attr('transform', 'translate(-1, 28) rotate(-20)');
    }
    svg.append('g').classed('axis', true)
        .attr('transform', `translate(${box.left}, 0)`)
        .call(d3.axisLeft(y).tickValues(yTicks).tickSizeInner(5).tickSizeOuter(0).tickPadding(4).tickFormat(plainFormat));
    svg.append('rect')
        .attr('x', box.left).attr('y', box.top)
        .attr('width', box.right - box.left).attr('height', box.bottom - box.top)
        .attr('fill', 'none').attr('stroke', '#000').attr('stroke-width', 1.1);
}

function addLabel(text, x, y, size, rotate) {
    const t = svg.append('text')
        .attr('text-anchor', 'middle')
        .attr('font-size', size)
        .attr('transform', `translate(${x}, ${y})` + (rotate ? ' rotate(-90)' : ''))
        .text(text);
    return t;
}

function addUnitLabel(prefix, x, y, rotate) {
    const t = addLabel(prefix, x, y, 13.9, rotate);
    t.append('tspan').text('m s');
    t.append('tspan').text('−1').attr('font-size', 9.7).attr('dy', -5);
    t.append('tspan').text(')').attr('dy', 5);
}

function legendBox(x, y, w, h) {
    svg.append('rect')
        .attr('x', x).attr('y', y).attr('width', w).attr('height', h).attr('rx', 2)
        .attr('fill', '#fff').attr('fill-opacity', 0.8)
        .attr('stroke', '#ccc').attr('stroke-width', 1);
}

function legendText(text, x, y) {
    svg.append('text').attr('x', x).attr('y', y + 4)
        .attr('font-size', 11.1).attr('fill', '#222').text(text);
}

// ---- flight track ----
addClip('map', mapBox);
const mapLine = d3.line().x(d => xLon(d[0])).y(d => yMapLat(d[1]));
const mapClosed = d3.line().x(d => xLon(d[0])).y(d => yMapLat(d[1])).curve(d3.curveLinearClosed);
const mapG = svg.append('g').attr('clip-path', `url(#${clipId('map')})`);

mapG.append('rect')
    .attr('x', mapBox.left).attr('y', mapBox.top)
    .attr('width', mapBox.right - mapBox.left).attr('height', mapBox.bottom - mapBox.top)
    .attr('fill', '#d4e6f1');
mapG.selectAll('path.land').data(landPolygons).join('path').classed('land', true)
    .attr('d', mapClosed)
    .attr('fill', '#e8e8e4').attr('stroke', '#bfc5c8').attr('stroke-width', 0.8);
mapG.selectAll('path.water').data(waterPolygons).join('path').classed('water', true)
    .attr('d', mapClosed)
    .attr('fill', '#d4e6f1').attr('stroke', '#bfc5c8').attr('stroke-width', 0.6);
mapG.selectAll('path.border').data(borderLines).join('path').classed('border', true)
    .attr('d', mapLine)
    .attr('fill', 'none').attr('stroke', '#d5d6d3').attr('stroke-width', 0.8);

const lonTicks = d3.range(-180, 181, 60);
const latTicks = d3.range(-90, 91, 30);
svg.append('g')
    .selectAll('line.v').data(lonTicks).join('line').classed('v', true)
    .attr('x1', d => xLon(d)).attr('x2', d => xLon(d))
    .attr('y1', mapBox.top).attr('y2', mapBox.bottom)
    .attr('stroke', '#888').attr('stroke-opacity', 0.3).attr('stroke-width', 0.8).attr('stroke-dasharray', '2,1.5');
svg.append('g')
    .selectAll('line.h').data(latTicks).join('line').classed('h', true)
    .attr('x1', mapBox.left).attr('x2', mapBox.right)
    .attr('y1', d => yMapLat(d)).attr('y2', d => yMapLat(d))
    .attr('stroke', '#888').attr('stroke-opacity', 0.3).attr('stroke-width', 0.8).attr('stroke-dasharray', '2,1.5');

mapG.selectAll('path.track').data(trackRuns).join('path').classed('track', true)
    .attr('d', mapLine)
    .attr('fill', 'none').attr('stroke', '#c0392b').attr('stroke-width', 4.4)
    .attr('stroke-linecap', 'round').attr('stroke-linejoin', 'round');

const starPath = d3.symbol().type(d3.symbolStar).size(125);
svg.append('path')
    .attr('d', starPath())
    .attr('transform', `translate(${xLon(lastFix[0])}, ${yMapLat(lastFix[1])})`)
    .attr('fill', '#1f77b4').attr('stroke', '#000').attr('stroke-width', 1.4);

addFrame(mapBox, xLon, yMapLat, lonTicks, latTicks, plainFormat, false);

svg.append('circle')
    .attr('cx', xLon(launchPoint[0])).attr('cy', yMapLat(launchPoint[1])).attr('r', 8)
    .attr('fill', '#27ae60').attr('stroke', '#000').attr('stroke-width', 1.4);

addLabel('Flight Track', 435.9, 23.5, 16.67, false);
addLabel('Longitude (deg)', 435.9, 380, 13.9, false);
addLabel('Latitude (deg)', 35, 184.8, 13.9, true);

legendBox(89.3, 283.3, 79.7, 49.4);
svg.append('circle').attr('cx', 104).attr('cy', 292.3).attr('r', 2).attr('fill', '#c0392b');
svg.append('circle').attr('cx', 104.3).attr('cy', 308.3).attr('r', 8.2)
    .attr('fill', '#27ae60').attr('stroke', '#000').attr('stroke-width', 1.4);
svg.append('path').attr('d', starPath()).attr('transform', 'translate(104.3, 323.3)')
    .attr('fill', '#1f77b4').attr('stroke', '#000').attr('stroke-width', 1.4);
legendText('Track', 124, 292.3);
legendText('Launch', 125, 308.3);
legendText('Last fix', 124, 323.3);

// ---- summary text ----
const infoX = 1214.7;
const infoStyle = [
    {y: 57.5, size: 22.3, color: '#1a5276'},
    {y: 79.7, size: 19.5, color: '#000'},
    {y: 99.6, size: 15.2, color: '#000'},
    {y: 122.6, size: 15.3, color: '#000'},
    {y: 145.6, size: 15.3, color: '#000'},
    {y: 168.6, size: 15.3, color: '#000'},
    {y: 191.6, size: 15.3, color: '#000'},
    {y: 214.6, size: 15.3, color: '#000'},
    {y: 237.6, size: 15.3, color: '#000'},
    {y: 263, size: 18, color: '#1a5276'},
    {y: 282, size: 12.55, color: '#555', shift: 4}
];
svg.selectAll('text.info').data(infoLines).join('text').classed('info', true)
    .attr('x', (d, i) => infoX + (infoStyle[i].shift || 0))
    .attr('y', (d, i) => infoStyle[i].y)
    .attr('text-anchor', 'middle')
    .attr('font-size', (d, i) => infoStyle[i].size)
    .attr('fill', (d, i) => infoStyle[i].color)
    .attr('xml:space', 'preserve')
    .style('white-space', 'pre')
    .text(d => d);

// ---- wind speed ----
const windTicks = [0, 20, 40, 60, 80];
addClip('wind', windBox);
addGrid(windBox, xWind, yWind, monthTicks, windTicks);

const windKnots = windColumns.map(c => [c[0], d3.min(c[1]) - windSigma, d3.max(c[1]) + windSigma])
    .concat(windBandExtra)
    .sort((a, b) => a[0] - b[0]);
const windBand = d3.area()
    .x(d => xWind(toDate(d[0])))
    .y0(d => yWind(Math.max(0, d[1])))
    .y1(d => yWind(d[2]));
const windG = svg.append('g').attr('clip-path', `url(#${clipId('wind')})`);
windG.append('path').attr('d', windBand(windKnots)).attr('fill', '#2f4f4f').attr('fill-opacity', 0.22);

const windPoints = windColumns.concat(windColumnsExtra).flatMap(c => c[1].map(v => [c[0], v]));
windG.selectAll('circle').data(windPoints).join('circle')
    .attr('cx', d => xWind(toDate(d[0])))
    .attr('cy', d => yWind(d[1]))
    .attr('r', 2.2)
    .attr('fill', '#2c3e50');

const windMeanLine = d3.line()
    .x((d, i) => xWind(toDate(windMeanDays[i])))
    .y(d => yWind(d));
windG.append('path').attr('d', windMeanLine(windMeanSpeeds))
    .attr('fill', 'none').attr('stroke', '#c0392b').attr('stroke-width', 1.7);

addFrame(windBox, xWind, yWind, monthTicks, windTicks, dateFormat, true);
addLabel('Wind Speed vs. Time', 435.9, 411, 16.67, false);
addUnitLabel('Wind speed (', 42, 573.8, true);

legendBox(621.7, 425.7, 161.6, 49.6);
svg.append('rect').attr('x', 625).attr('y', 430).attr('width', 24).attr('height', 9)
    .attr('fill', '#2f4f4f').attr('fill-opacity', 0.22);
svg.append('circle').attr('cx', 637.3).attr('cy', 450).attr('r', 2).attr('fill', '#2c3e50');
svg.append('line').attr('x1', 624.3).attr('x2', 649).attr('y1', 465).attr('y2', 465)
    .attr('stroke', '#c0392b').attr('stroke-width', 1.7);
legendText('±1σ propagated error', 657.3, 435);
legendText('Wind speed', 657.3, 450);
legendText('Daily mean', 657.3, 466);

// ---- latitude ----
addClip('lat', latBox);
addGrid(latBox, xLat, yLat, monthTicks, latTicks);
svg.append('g').attr('clip-path', `url(#${clipId('lat')})`)
    .selectAll('circle').data(latTrack).join('circle')
    .attr('cx', d => xLat(toDate(d[0])))
    .attr('cy', d => yLat(d[1]))
    .attr('r', 2.6)
    .attr('fill', '#000');
addFrame(latBox, xLat, yLat, monthTicks, latTicks, dateFormat, true);
addLabel('Latitude vs. Time', 1214.7, 411, 16.67, false);
addLabel('Latitude (deg)', 814, 573.8, 13.9, true);

// ---- altitude ----
const altTicks = d3.range(11500, 13251, 250);
addClip('alt', altBox);
addGrid(altBox, xWind, yAlt, monthTicks, altTicks);
const altPoints = altColumns.flatMap(c => c[1].map(v => [c[0], v]));
const altG = svg.append('g').attr('clip-path', `url(#${clipId('alt')})`);
altG.selectAll('circle').data(altPoints).join('circle')
    .attr('cx', d => xWind(toDate(d[0])))
    .attr('cy', d => yAlt(d[1]))
    .attr('r', 2.2)
    .attr('fill', '#7f8c8d');
const altMeanLine = d3.line()
    .x((d, i) => xWind(toDate(altMeanDays[i])))
    .y(d => yAlt(d));
altG.append('path').attr('d', altMeanLine(altMeans))
    .attr('fill', 'none').attr('stroke', '#c0392b').attr('stroke-width', 1.9);
addFrame(altBox, xWind, yAlt, monthTicks, altTicks, dateFormat, true);
addLabel('Balloon Altitude vs. Time', 435.9, 801, 16.67, false);
addLabel('UTC date', 435.9, 1177, 13.9, false);
addLabel('Altitude (m AMSL)', 21, 961.8, 13.9, true);

// ---- histogram ----
const histTicksX = d3.range(-100, 101, 25);
const histTicksY = d3.range(0, 801, 100);
function histBars(values, color) {
    svg.append('g').selectAll('rect')
        .data(values.map((v, i) => [histBinLeft[i], v]).filter(d => d[1] > 0))
        .join('rect')
        .attr('x', d => xHist(d[0]))
        .attr('width', d => xHist(d[0] + 5) - xHist(d[0]))
        .attr('y', d => yHist(d[1]))
        .attr('height', d => yHist(0) - yHist(d[1]))
        .attr('fill', color).attr('fill-opacity', 0.65)
        .attr('stroke', '#000').attr('stroke-opacity', 0.75).attr('stroke-width', 1.1);
}
histBars(histU, '#1f77b4');
histBars(histV, '#ff7f0e');
addGrid(histBox, xHist, yHist, histTicksX, histTicksY);
addFrame(histBox, xHist, yHist, histTicksX, histTicksY, plainFormat, false);
addLabel('U and V Wind Components', 1214.7, 801, 16.67, false);
addUnitLabel('Wind speed (', 1214.7, 1160, false);
addLabel('Frequency', 818, 961.8, 13.9, true);

legendBox(1442.7, 814.3, 115.8, 34);
[['#1f77b4', 819, 'U (zonal)', 824], ['#ff7f0e', 834.3, 'V (meridional)', 839]].forEach(row => {
    svg.append('rect').attr('x', 1446).attr('y', row[1]).attr('width', 23).attr('height', 8)
        .attr('fill', row[0]).attr('fill-opacity', 0.65)
        .attr('stroke', '#000').attr('stroke-opacity', 0.75).attr('stroke-width', 1.1);
    legendText(row[2], 1477.3, row[3]);
});
</script>
</body>
</html>
